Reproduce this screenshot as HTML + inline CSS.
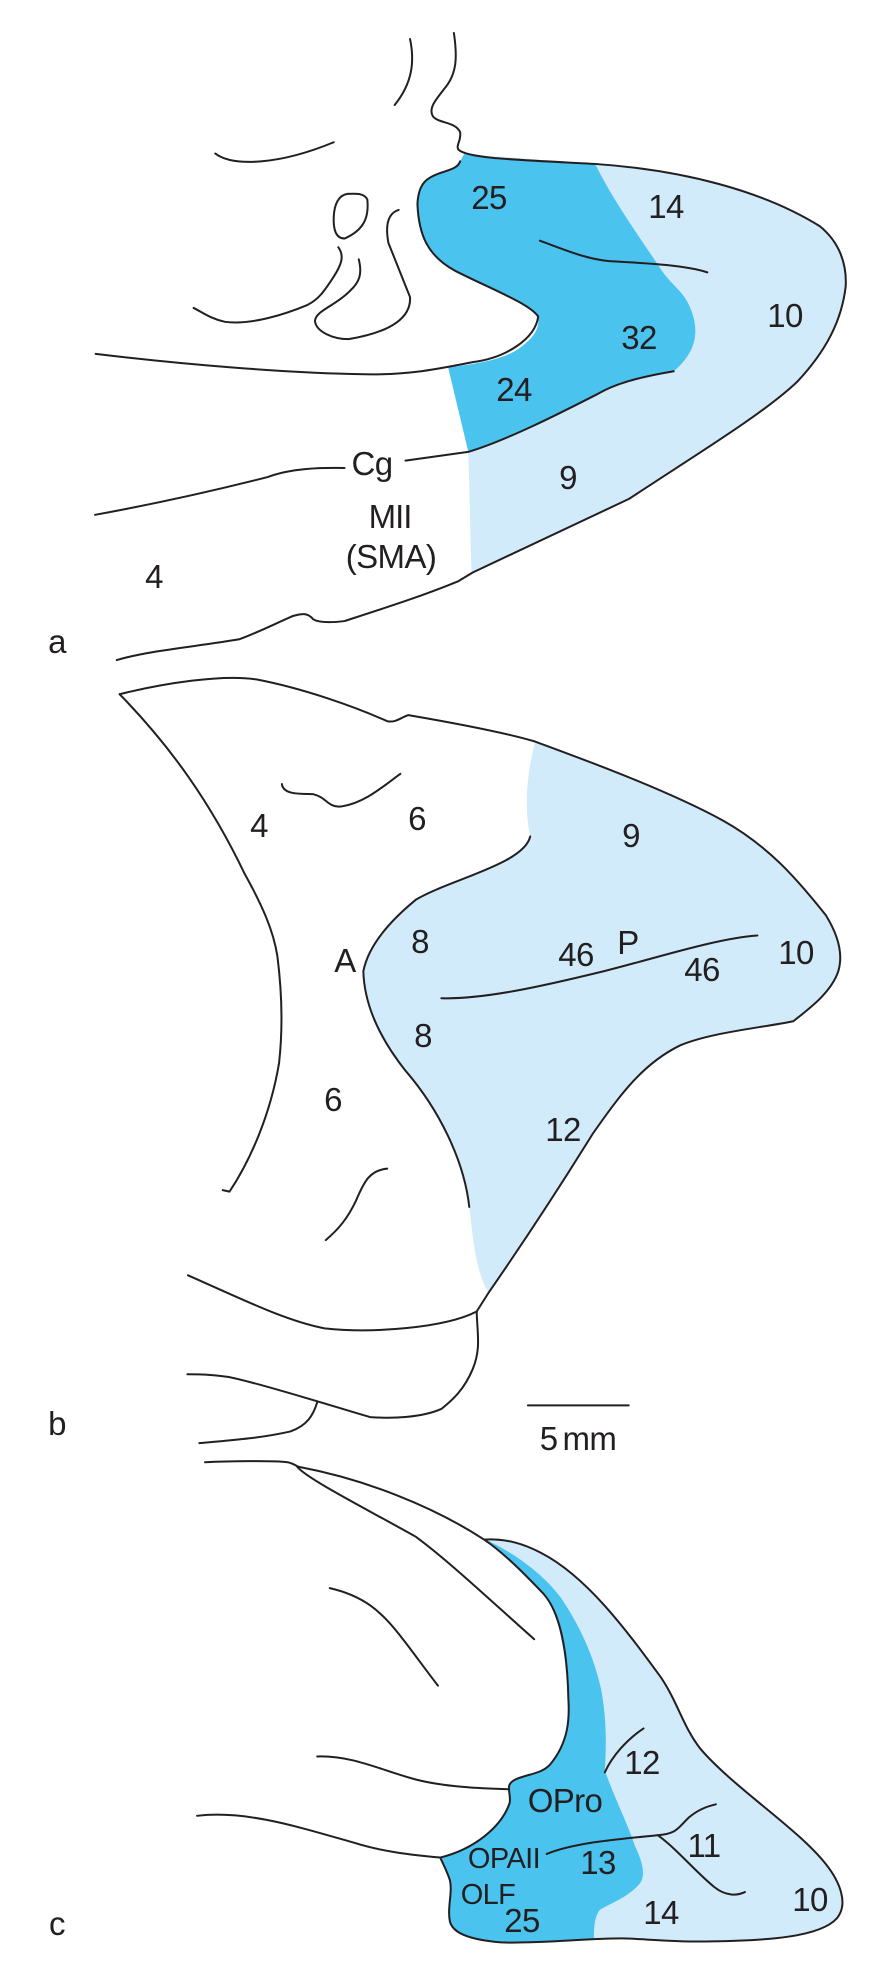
<!DOCTYPE html>
<html><head><meta charset="utf-8"><style>
html,body{margin:0;padding:0;background:#fff}
svg{display:block}
path{vector-effect:non-scaling-stroke}
.l{fill:none;stroke:#231f20;stroke-width:2;stroke-linecap:round;stroke-linejoin:round}
text{font-family:"Liberation Sans",sans-serif;font-size:33px;letter-spacing:-0.6px;fill:#231f20;text-anchor:middle}
</style></head><body>
<svg width="893" height="1964" viewBox="0 0 893 1964" xmlns="http://www.w3.org/2000/svg">
<g transform="scale(0.5695,0.4337)">
<path fill="#d2ebfa" d="M815,355 C860,372 960,370 1045,378 C1200,392 1340,440 1440,522 C1475,560 1487,610 1485,660 C1478,740 1450,810 1400,880 C1340,955 1220,1050 1105,1150 L828,1320 C825,1220 825,1130 822,1040 L1100,800 L1045,378 Z"/>
<path fill="#4bc3ef" d="M815,355 C860,372 960,370 1045,378 C1080,470 1125,550 1160,620 C1180,660 1200,670 1212,710 C1228,760 1225,810 1183,856 C1120,870 1080,885 1050,908 C980,955 890,1015 822,1040 L787,848 C820,840 880,835 915,800 C935,780 948,760 945,730 C930,700 860,665 800,625 C750,590 735,540 733,470 C735,420 750,410 775,398 C795,390 805,385 808,372 Z"/>
<path class="l" d="M720,90 C728,140 725,190 693,242"/>
<path class="l" d="M797,76 C803,130 803,170 780,205 C765,230 752,250 760,268 C770,285 800,280 808,305 C810,325 800,335 805,345 C820,365 900,368 1045,378 C1200,392 1340,440 1440,522 C1475,560 1487,610 1485,660 C1478,740 1450,810 1400,880 C1340,955 1220,1050 1105,1150 L830,1320 L805,1340 C740,1375 680,1400 605,1432 C580,1436 560,1436 550,1428 C540,1412 530,1415 515,1420 C480,1440 450,1460 420,1474 C350,1490 260,1500 205,1522"/>
<path class="l" d="M378,354 C410,385 490,380 586,328"/>
<path class="l" d="M610,447 C625,446 640,445 645,460 C648,500 640,530 605,550 C590,550 585,530 586,500 C587,470 595,450 610,447Z"/>
<path class="l" d="M700,484 C685,490 675,510 682,560 L720,685 C722,730 690,765 612,782 C585,782 555,765 553,740 C555,715 590,705 615,670 C632,650 636,630 630,598"/>
<path class="l" d="M594,570 C605,590 600,610 585,640 C570,670 560,690 540,703 C500,725 440,750 395,742 C370,735 355,720 340,710"/>
<path class="l" d="M168,816 C320,840 500,860 640,863 C720,865 770,850 830,835 C890,825 940,780 945,730 C930,700 860,665 800,625 C750,590 735,540 733,470 C735,420 750,410 775,398 C795,390 805,385 808,372"/>
<path class="l" d="M948,555 C990,575 1030,598 1070,602 C1120,606 1200,610 1242,628"/>
<path class="l" d="M167,1187 C280,1160 380,1130 470,1100 C510,1080 560,1078 605,1079"/>
<path class="l" d="M712,1062 L822,1042 C890,1015 980,955 1050,908 C1080,885 1120,870 1183,856"/>
</g>
<g transform="translate(0,660) scale(0.5695,0.5102)">
<path fill="#d2ebfa" d="M940,160 C1050,205 1180,260 1270,315 C1350,365 1400,430 1450,500 C1475,545 1480,580 1472,610 C1460,650 1425,680 1393,708 C1330,722 1250,730 1195,755 C1130,790 1090,850 1040,930 C990,1020 920,1140 858,1240 C835,1200 830,1130 824,1072 C815,980 770,880 712,805 C680,760 640,690 638,610 C645,570 670,525 730,470 C790,430 920,400 931,346 C920,290 925,220 940,160 Z"/>
<path class="l" d="M210,67 C290,45 390,28 450,38 C530,55 620,90 680,120 C695,123 700,115 717,108 C790,122 880,140 940,160 C1050,205 1180,260 1270,315 C1350,365 1400,430 1450,500 C1475,545 1480,580 1472,610 C1460,650 1425,680 1393,708 C1330,722 1250,730 1195,755 C1130,790 1090,850 1040,930 C990,1020 920,1140 858,1240 L837,1277"/>
<path class="l" d="M837,1277 C780,1310 650,1320 570,1310 C500,1295 420,1250 330,1206"/>
<path class="l" d="M837,1277 C838,1320 845,1350 830,1390 C815,1430 795,1450 775,1468 C740,1485 690,1487 650,1484 C600,1468 450,1415 400,1405 C370,1400 350,1400 329,1400"/>
<path class="l" d="M557,1455 C550,1480 540,1500 510,1512 C460,1525 400,1530 350,1535"/>
<path class="l" d="M210,67 C300,170 370,280 430,420 C460,480 480,530 487,580 C495,650 497,720 490,790 C475,890 440,980 403,1042 L391,1039"/>
<path class="l" d="M495,243 C497,265 530,262 550,263 C575,270 575,290 600,287 C640,280 670,250 703,223"/>
<path class="l" d="M931,346 C920,400 790,430 730,470 C670,525 645,570 638,610 C640,690 680,760 712,805 C770,880 815,980 824,1072"/>
<path class="l" d="M775,663 C850,665 950,640 1060,610 C1150,585 1260,545 1330,540"/>
<path class="l" d="M680,997 C650,1000 640,1020 625,1060 C610,1095 595,1115 572,1137"/>
<path class="l" d="M927,1461 L1104,1461"/>
</g>
<g transform="translate(0,1400) scale(0.5695,0.3597)">
<path fill="#d2ebfa" d="M850,388 C890,385 920,400 950,425 C1030,490 1100,640 1160,770 C1190,840 1200,910 1230,970 C1290,1080 1400,1190 1450,1290 C1475,1340 1490,1400 1470,1440 C1440,1495 1340,1503 1250,1505 C1190,1508 1150,1500 1100,1497 L1030,1500 L1030,1200 L1040,800 C1020,680 1000,620 975,560 C945,490 895,420 855,390 Z"/>
<path fill="#4bc3ef" d="M855,390 C895,420 950,475 985,550 C1015,620 1040,700 1055,800 C1065,880 1065,960 1062,1030 C1080,1110 1100,1170 1115,1240 C1130,1290 1135,1330 1120,1350 C1100,1385 1070,1400 1053,1418 C1043,1440 1043,1470 1043,1500 C1000,1505 920,1512 880,1508 C820,1500 795,1480 790,1450 C785,1410 795,1370 790,1335 C785,1310 778,1290 773,1272 C830,1250 880,1190 895,1120 C898,1090 885,1070 905,1055 C925,1040 950,1040 965,1015 C1000,950 1000,880 998,830 C996,680 980,585 955,540 C925,490 885,425 850,388 Z"/>
<path class="l" d="M360,173 C400,170 480,168 505,173 C515,176 520,184 525,186 C640,220 760,295 850,388 C885,425 925,490 955,540 C980,585 996,680 998,830 C1000,880 1000,950 965,1015 C950,1040 925,1040 905,1055 C885,1070 898,1090 895,1120 C880,1190 830,1250 773,1272 C778,1290 785,1310 790,1335 C795,1370 785,1410 790,1450 C795,1480 820,1500 880,1508 C950,1512 1040,1495 1100,1497 C1150,1500 1190,1508 1250,1505 C1340,1503 1440,1495 1470,1440 C1490,1400 1475,1340 1450,1290 C1400,1190 1290,1080 1230,970 C1200,910 1190,840 1160,770 C1100,640 1030,490 950,425 C920,400 890,385 850,388"/>
<path class="l" d="M522,186 C540,220 640,300 730,380 C790,450 870,570 938,665"/>
<path class="l" d="M579,523 C640,545 670,590 700,650 C725,700 745,745 769,794"/>
<path class="l" d="M557,991 C620,988 670,1030 730,1055 C780,1075 840,1080 893,1082"/>
<path class="l" d="M346,1156 C430,1140 520,1185 620,1230 C670,1255 720,1265 773,1272"/>
<path class="l" d="M1130,913 C1100,945 1075,990 1062,1035"/>
<path class="l" d="M960,1262 C1010,1230 1090,1220 1155,1210 C1190,1205 1190,1190 1210,1160 C1225,1140 1240,1130 1257,1124"/>
<path class="l" d="M1155,1210 C1190,1250 1220,1310 1255,1355 C1275,1380 1295,1378 1308,1368"/>
</g>
<text x="489" y="209">25</text>
<text x="666" y="218">14</text>
<text x="785" y="327">10</text>
<text x="639" y="349">32</text>
<text x="514" y="401">24</text>
<text x="372" y="475">Cg</text>
<text x="568" y="489">9</text>
<text x="390" y="528" style="letter-spacing:-1px">MII</text>
<text x="391" y="568">(SMA)</text>
<text x="154" y="588">4</text>
<text x="57" y="653">a</text>
<text x="259" y="837">4</text>
<text x="417" y="830">6</text>
<text x="631" y="847">9</text>
<text x="420" y="953">8</text>
<text x="345" y="972">A</text>
<text x="576" y="966">46</text>
<text x="628" y="954">P</text>
<text x="796" y="964">10</text>
<text x="702" y="981">46</text>
<text x="423" y="1047">8</text>
<text x="333" y="1111">6</text>
<text x="563" y="1141">12</text>
<text x="57" y="1435">b</text>
<text x="578" y="1450">5<tspan dx="5">mm</tspan></text>
<text x="642" y="1774">12</text>
<text x="565" y="1812">OPro</text>
<text x="704" y="1857">11</text>
<text x="504" y="1868" style="font-size:29px">OPAII</text>
<text x="598" y="1874">13</text>
<text x="488" y="1904" style="font-size:29px">OLF</text>
<text x="522" y="1932">25</text>
<text x="661" y="1924">14</text>
<text x="810" y="1911">10</text>
<text x="57" y="1935">c</text>
</svg>
</body></html>
